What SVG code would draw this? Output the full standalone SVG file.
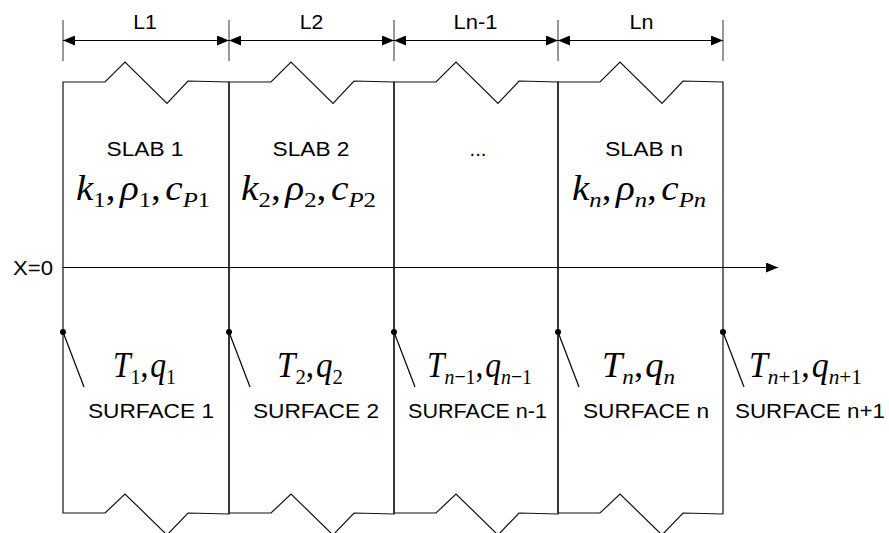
<svg xmlns="http://www.w3.org/2000/svg" width="889" height="533" viewBox="0 0 889 533">
<defs>
<marker id="ah" viewBox="0 0 12 10" refX="12" refY="5" markerWidth="12" markerHeight="10" markerUnits="userSpaceOnUse" orient="auto-start-reverse"><path d="M0,0 L12,5 L0,10 Z" fill="#000"/></marker>
<style>
.ln{stroke:#111;stroke-width:1.2;fill:none;stroke-linejoin:miter}
.tk{stroke:#444;stroke-width:1.1}
.cn{stroke:#000;stroke-width:1.2;fill:none}
.t{font-family:"Liberation Sans",Arial,sans-serif;font-size:20.5px;fill:#000}
.m{font-family:"Liberation Serif","Times New Roman",serif;font-size:35px;font-style:italic;fill:#000}
.s{font-size:22px;font-style:normal}
.si{font-size:22px;font-style:italic}
.u{font-style:normal}
.dot{fill:#000}
</style>
</defs>
<rect width="889" height="533" fill="#fff"/>

<g id="connectors">
<g class="tk">
<line x1="63" y1="20" x2="63" y2="61"/>
<line x1="229" y1="20" x2="229" y2="61"/>
<line x1="394" y1="20" x2="394" y2="61"/>
<line x1="558" y1="20" x2="558" y2="61"/>
<line x1="723" y1="20" x2="723" y2="61"/>
</g>
<line class="cn" x1="63" y1="40.5" x2="229" y2="40.5" marker-start="url(#ah)" marker-end="url(#ah)"/>
<line class="cn" x1="229" y1="40.5" x2="394" y2="40.5" marker-start="url(#ah)" marker-end="url(#ah)"/>
<line class="cn" x1="394" y1="40.5" x2="558" y2="40.5" marker-start="url(#ah)" marker-end="url(#ah)"/>
<line class="cn" x1="558" y1="40.5" x2="723" y2="40.5" marker-start="url(#ah)" marker-end="url(#ah)"/>
<line id="x-axis" class="cn" x1="63" y1="267.5" x2="778" y2="267.5" marker-end="url(#ah)"/>
</g>

<g id="dim-labels">
<text class="t" x="145" y="28.5" text-anchor="middle" textLength="23.5" lengthAdjust="spacingAndGlyphs">L1</text>
<text class="t" x="311.5" y="28.5" text-anchor="middle" textLength="23.5" lengthAdjust="spacingAndGlyphs">L2</text>
<text class="t" x="475.5" y="28.5" text-anchor="middle" textLength="44" lengthAdjust="spacingAndGlyphs">Ln-1</text>
<text class="t" x="641.5" y="28.5" text-anchor="middle" textLength="24" lengthAdjust="spacingAndGlyphs">Ln</text>
</g>

<g id="origin-label">
<text class="t" x="13" y="275" textLength="40" lengthAdjust="spacingAndGlyphs">X=0</text>
</g>

<g id="slab1">
<path class="ln" d="M63,82 H105 L125,62 L167,103.5 L188,81 L229,82 V514 L188,513 L167,535 L125,494 L105,513 H63 Z"/>
<text class="t" x="145" y="156" text-anchor="middle" textLength="77" lengthAdjust="spacingAndGlyphs">SLAB 1</text>
<text class="m" x="76" y="200" textLength="134" lengthAdjust="spacingAndGlyphs">k<tspan class="s" dy="7">1</tspan><tspan class="u" dy="-7">,</tspan><tspan dx="4">ρ</tspan><tspan class="s" dy="7">1</tspan><tspan class="u" dy="-7">,</tspan><tspan dx="4">c</tspan><tspan class="si" dy="7">P</tspan><tspan class="s">1</tspan></text>
</g>

<g id="slab2">
<path class="ln" d="M229,82 H271 L291,62 L333,103.5 L354,81 L394,82 V514 L354,513 L333,535 L291,494 L271,513 H229 Z"/>
<text class="t" x="311" y="156" text-anchor="middle" textLength="77" lengthAdjust="spacingAndGlyphs">SLAB 2</text>
<text class="m" x="241" y="200" textLength="135" lengthAdjust="spacingAndGlyphs">k<tspan class="s" dy="7">2</tspan><tspan class="u" dy="-7">,</tspan><tspan dx="4">ρ</tspan><tspan class="s" dy="7">2</tspan><tspan class="u" dy="-7">,</tspan><tspan dx="4">c</tspan><tspan class="si" dy="7">P</tspan><tspan class="s">2</tspan></text>
</g>

<g id="slab3">
<path class="ln" d="M394,82 H436 L456,62 L498,103.5 L519,81 L558,82 V514 L519,513 L498,535 L456,494 L436,513 H394 Z"/>
<text class="t" x="478" y="156" text-anchor="middle" textLength="17" lengthAdjust="spacingAndGlyphs">...</text>
</g>

<g id="slabn">
<path class="ln" d="M558,82 H600 L620,62 L662,103.5 L683,81 L723,82 V514 L683,513 L662,535 L620,494 L600,513 H558 Z"/>
<text class="t" x="644" y="156" text-anchor="middle" textLength="78" lengthAdjust="spacingAndGlyphs">SLAB n</text>
<text class="m" x="572" y="200" textLength="134" lengthAdjust="spacingAndGlyphs">k<tspan class="si" dy="7">n</tspan><tspan class="u" dy="-7">,</tspan><tspan dx="4">ρ</tspan><tspan class="si" dy="7">n</tspan><tspan class="u" dy="-7">,</tspan><tspan dx="4">c</tspan><tspan class="si" dy="7">Pn</tspan></text>
</g>

<g id="surface1">
<circle class="dot" cx="63" cy="332" r="3"/>
<line class="cn" x1="63" y1="332" x2="84" y2="387"/>
<text class="m" x="113" y="377" textLength="63" lengthAdjust="spacingAndGlyphs">T<tspan class="s" dy="7">1</tspan><tspan class="u" dy="-7">,</tspan><tspan dx="2">q</tspan><tspan class="s" dy="7">1</tspan></text>
<text class="t" x="88" y="418" textLength="126" lengthAdjust="spacingAndGlyphs">SURFACE 1</text>
</g>

<g id="surface2">
<circle class="dot" cx="229" cy="332" r="3"/>
<line class="cn" x1="229" y1="332" x2="250" y2="387"/>
<text class="m" x="277" y="377" textLength="66" lengthAdjust="spacingAndGlyphs">T<tspan class="s" dy="7">2</tspan><tspan class="u" dy="-7">,</tspan><tspan dx="2">q</tspan><tspan class="s" dy="7">2</tspan></text>
<text class="t" x="253" y="418" textLength="126" lengthAdjust="spacingAndGlyphs">SURFACE 2</text>
</g>

<g id="surface3">
<circle class="dot" cx="394" cy="332" r="3"/>
<line class="cn" x1="394" y1="332" x2="415" y2="387"/>
<text class="m" x="427" y="377" textLength="105" lengthAdjust="spacingAndGlyphs">T<tspan class="si" dy="7">n</tspan><tspan class="s">−1</tspan><tspan class="u" dy="-7">,</tspan><tspan dx="2">q</tspan><tspan class="si" dy="7">n</tspan><tspan class="s">−1</tspan></text>
<text class="t" x="408" y="418" textLength="139" lengthAdjust="spacingAndGlyphs">SURFACE n-1</text>
</g>

<g id="surfacen">
<circle class="dot" cx="558" cy="332" r="3"/>
<line class="cn" x1="558" y1="332" x2="579" y2="387"/>
<text class="m" x="602" y="377" textLength="73" lengthAdjust="spacingAndGlyphs">T<tspan class="si" dy="7">n</tspan><tspan class="u" dy="-7">,</tspan><tspan dx="2">q</tspan><tspan class="si" dy="7">n</tspan></text>
<text class="t" x="583" y="418" textLength="126" lengthAdjust="spacingAndGlyphs">SURFACE n</text>
</g>

<g id="surfacen1">
<circle class="dot" cx="723" cy="332" r="3"/>
<line class="cn" x1="723" y1="332" x2="744" y2="387"/>
<text class="m" x="749" y="377" textLength="113" lengthAdjust="spacingAndGlyphs">T<tspan class="si" dy="7">n</tspan><tspan class="s">+1</tspan><tspan class="u" dy="-7">,</tspan><tspan dx="2">q</tspan><tspan class="si" dy="7">n</tspan><tspan class="s">+1</tspan></text>
<text class="t" x="735" y="418" textLength="150" lengthAdjust="spacingAndGlyphs">SURFACE n+1</text>
</g>
</svg>
